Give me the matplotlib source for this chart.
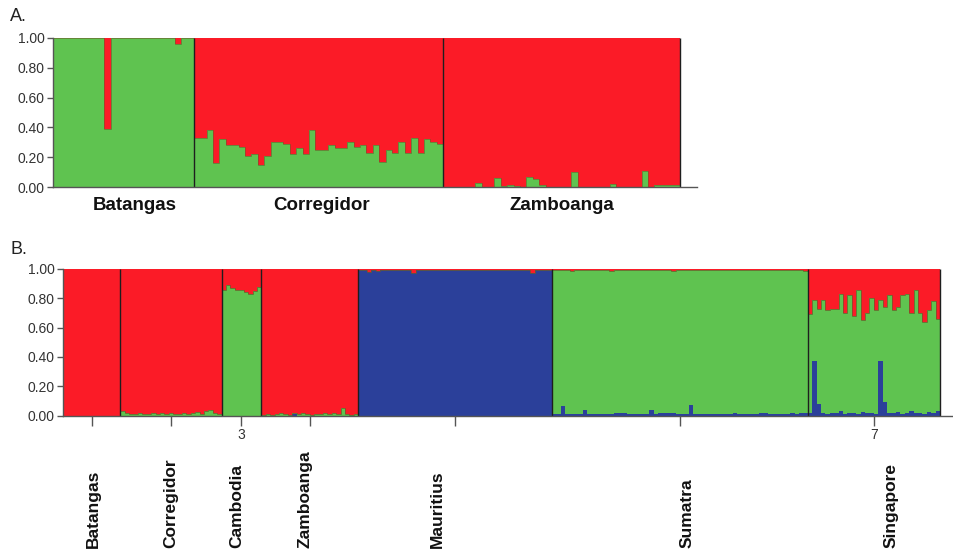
import numpy as np
import matplotlib.pyplot as plt
import matplotlib.transforms as mtransforms

plt.rcParams['font.family'] = ['Liberation Sans', 'DejaVu Sans']

GREEN = '#5fc350'
RED = '#fb1b27'
BLUE = '#2b409a'
EDGE = '#6e5a2a'

# ---- Panel A (K=2): green membership per individual, red is the remainder
a_pops = ['Batangas', 'Corregidor', 'Zamboanga']
a_batangas_green = [1, 1, 1, 1, 1, 1, 1, 1, 0.39, 1, 1,
                    1, 1, 1, 1, 1, 1, 1, 1, 0.96, 1, 1]
a_corregidor_green = [0.33, 0.33, 0.38, 0.16, 0.32, 0.28, 0.28, 0.27, 0.21, 0.22,
                      0.15, 0.21, 0.30, 0.30, 0.29, 0.22, 0.26, 0.22, 0.38, 0.25,
                      0.25, 0.28, 0.26, 0.26, 0.30, 0.27, 0.28, 0.23, 0.28, 0.17,
                      0.25, 0.23, 0.30, 0.23, 0.33, 0.23, 0.32, 0.30, 0.29]
a_zamboanga_green = [0, 0, 0.005, 0.005, 0.005, 0.03, 0.005, 0.005, 0.06, 0.01,
                     0.015, 0.01, 0.005, 0.07, 0.055, 0.015, 0.005, 0.005, 0, 0.005,
                     0.10, 0.005, 0, 0.005, 0.005, 0.005, 0.025, 0.005, 0, 0.005,
                     0.005, 0.11, 0.005, 0.015, 0.015, 0.015, 0.015]

# ---- Panel B (K=3): blue and red membership, green is the remainder
b_pops = ['Batangas', 'Corregidor', 'Cambodia', 'Zamboanga',
          'Mauritius', 'Sumatra', 'Singapore']
b_tick_labels = ['', '', '3', '', '', '', '7']

b_batangas_blue = [0, 0, 0, 0, 0, 0, 0, 0, 0, 0, 0, 0, 0]
b_batangas_red = [1, 1, 1, 1, 1, 1, 1, 1, 1, 1, 1, 1, 1]

b_corregidor_blue = [0, 0, 0, 0, 0, 0, 0, 0, 0, 0, 0, 0,
                     0, 0, 0, 0, 0, 0, 0, 0, 0, 0, 0]
b_corregidor_red = [0.97, 0.98, 0.99, 0.99, 0.985, 0.99, 0.99, 0.98, 0.99, 0.985,
                    0.99, 0.98, 0.99, 0.99, 0.985, 0.99, 0.98, 0.975, 0.99, 0.97,
                    0.96, 0.985, 0.99]

b_cambodia_blue = [0, 0, 0, 0, 0, 0, 0, 0, 0]
b_cambodia_red = [0.14, 0.11, 0.13, 0.14, 0.14, 0.16, 0.17, 0.15, 0.12]

b_zamboanga_blue = [0, 0, 0, 0, 0, 0, 0, 0.01, 0, 0, 0,
                    0, 0, 0, 0, 0, 0, 0, 0, 0, 0, 0]
b_zamboanga_red = [0.995, 0.99, 0.995, 0.99, 0.985, 0.99, 0.995, 0.98, 0.99, 0.98,
                   0.99, 0.995, 0.99, 0.99, 0.985, 0.99, 0.98, 0.99, 0.95, 0.99,
                   0.995, 0.99]

b_mauritius_blue = [0.995, 0.99, 0.98, 0.995, 0.985, 0.995, 0.995, 0.99, 0.995, 0.995,
                    0.995, 0.99, 0.975, 0.995, 0.995, 0.995, 0.995, 0.99, 0.99, 0.995,
                    0.995, 0.995, 0.995, 0.99, 0.995, 0.995, 0.995, 0.995, 0.995, 0.995,
                    0.995, 0.995, 0.995, 0.995, 0.995, 0.995, 0.995, 0.995, 0.99, 0.97,
                    0.995, 0.995, 0.995, 0.995]
b_mauritius_red = [0.005, 0.01, 0.02, 0.005, 0.015, 0.005, 0.005, 0.01, 0.005, 0.005,
                   0.005, 0.01, 0.025, 0.005, 0.005, 0.005, 0.005, 0.01, 0.01, 0.005,
                   0.005, 0.005, 0.005, 0.01, 0.005, 0.005, 0.005, 0.005, 0.005, 0.005,
                   0.005, 0.005, 0.005, 0.005, 0.005, 0.005, 0.005, 0.005, 0.01, 0.03,
                   0.005, 0.005, 0.005, 0.005]

b_sumatra_blue = [0.01, 0.008, 0.065, 0.01, 0.008, 0.01, 0.012, 0.04, 0.01, 0.008,
                  0.01, 0.008, 0.01, 0.012, 0.015, 0.02, 0.015, 0.01, 0.008, 0.01,
                  0.01, 0.012, 0.04, 0.01, 0.015, 0.018, 0.02, 0.015, 0.01, 0.012,
                  0.01, 0.075, 0.01, 0.008, 0.01, 0.008, 0.01, 0.01, 0.008, 0.01,
                  0.012, 0.015, 0.01, 0.008, 0.01, 0.012, 0.01, 0.015, 0.02, 0.01,
                  0.008, 0.01, 0.012, 0.01, 0.015, 0.012, 0.018, 0.02]
b_sumatra_red = [0.008, 0.01, 0.005, 0.01, 0.012, 0.005, 0.008, 0.01, 0.005, 0.005,
                 0.005, 0.005, 0.01, 0.012, 0.008, 0.01, 0.005, 0.005, 0.01, 0.005,
                 0.008, 0.005, 0.005, 0.01, 0.005, 0.005, 0.005, 0.012, 0.01, 0.008,
                 0.005, 0.005, 0.005, 0.005, 0.01, 0.005, 0.005, 0.005, 0.008, 0.005,
                 0.005, 0.01, 0.005, 0.005, 0.008, 0.005, 0.005, 0.005, 0.005, 0.005,
                 0.005, 0.005, 0.005, 0.005, 0.005, 0.005, 0.01, 0.012]

b_singapore_blue = [0.02, 0.37, 0.08, 0.02, 0.01, 0.015, 0.02, 0.03, 0.01, 0.015,
                    0.02, 0.01, 0.025, 0.015, 0.02, 0.01, 0.37, 0.09, 0.015, 0.02,
                    0.025, 0.01, 0.02, 0.03, 0.015, 0.02, 0.01, 0.025, 0.02, 0.03]
b_singapore_red = [0.31, 0.21, 0.27, 0.21, 0.28, 0.27, 0.27, 0.17, 0.30, 0.18,
                   0.32, 0.145, 0.35, 0.30, 0.20, 0.28, 0.21, 0.26, 0.18, 0.28,
                   0.26, 0.18, 0.17, 0.30, 0.145, 0.30, 0.36, 0.28, 0.22, 0.34]

a_green = [a_batangas_green, a_corregidor_green, a_zamboanga_green]
b_blue = [b_batangas_blue, b_corregidor_blue, b_cambodia_blue, b_zamboanga_blue,
          b_mauritius_blue, b_sumatra_blue, b_singapore_blue]
b_red = [b_batangas_red, b_corregidor_red, b_cambodia_red, b_zamboanga_red,
         b_mauritius_red, b_sumatra_red, b_singapore_red]

# label nudges (in individuals) relative to population centre
a_label_shift = [1.7, 0.5, 0]
b_label_shift = [0.5, 0, -1, -1, -4, 1.6, 4]


def draw_stack(ax, start, layers):
    """layers: list of (values, color) stacked bottom to top"""
    n = len(layers[0][0])
    edges = np.arange(start, start + n + 1)
    base = np.zeros(n)
    tops = []
    for vals, col in layers:
        top = base + np.asarray(vals, dtype=float)
        ax.stairs(top, edges, baseline=base, fill=True, color=col, lw=0)
        tops.append(top)
        base = top
    return edges, tops


def style_axis(ax):
    for s in ['top', 'right']:
        ax.spines[s].set_visible(False)
    for s in ['left', 'bottom']:
        ax.spines[s].set_color('#555555')
        ax.spines[s].set_linewidth(1.0)
    ax.set_ylim(0, 1)
    ticks = [0, 0.2, 0.4, 0.6, 0.8, 1.0]
    ax.set_yticks(ticks)
    ax.set_yticklabels(['%.2f' % v for v in ticks])
    ax.tick_params(axis='y', direction='out', length=4, width=1, color='#555555',
                   labelsize=10, labelcolor='#333333', pad=2)


fig = plt.figure(figsize=(9.54, 5.52), dpi=100)
W, H = 954.0, 552.0

# ---------------- Panel A ----------------
axA = fig.add_axes([53 / W, 1 - 187.3 / H, (697 - 53) / W, (187.3 - 37.7) / H])
style_axis(axA)
start = 0
a_bounds, a_centers = [], []
for green in a_green:
    red = 1 - np.asarray(green, dtype=float)
    edges, tops = draw_stack(axA, start, [(green, GREEN), (red, RED)])
    axA.stairs(tops[0], edges, baseline=None, color=EDGE, lw=0.6, alpha=0.7)
    a_centers.append(start + len(green) / 2)
    start += len(green)
    a_bounds.append(start)
nA = start
axA.vlines(a_bounds, 0, 1, color='#1e1e1e', lw=1.0)
axA.set_xlim(0, nA * (697 - 53) / (680 - 53))
axA.set_xticks([])
trA = mtransforms.blended_transform_factory(axA.transData, fig.transFigure)
for name, cx, dx in zip(a_pops, a_centers, a_label_shift):
    axA.text(cx + dx, 1 - 205 / H, name, transform=trA, ha='center', va='center',
             fontsize=13.5, fontweight='bold', color='#111111')
fig.text(10 / W, 1 - 21 / H, 'A.', fontsize=13, color='#222222')

# ---------------- Panel B ----------------
axB = fig.add_axes([63 / W, 1 - 415.5 / H, (953 - 63) / W, (415.5 - 269) / H])
style_axis(axB)
start = 0
b_bounds, b_centers = [], []
for blue, red in zip(b_blue, b_red):
    blue = np.asarray(blue, dtype=float)
    red = np.asarray(red, dtype=float)
    green = 1 - blue - red
    edges, tops = draw_stack(axB, start, [(blue, BLUE), (green, GREEN), (red, RED)])
    axB.stairs(tops[1], edges, baseline=None, color=EDGE, lw=0.7, alpha=0.75)
    b_centers.append(start + len(blue) / 2)
    start += len(blue)
    b_bounds.append(start)
nB = start
axB.vlines(b_bounds, 0, 1, color='#1e1e1e', lw=1.0)
axB.set_xlim(0, nB * (953 - 63) / (940 - 63))
axB.set_xticks(b_centers)
axB.set_xticklabels(b_tick_labels)
axB.tick_params(axis='x', direction='out', length=7, width=1, color='#555555',
                labelsize=10, labelcolor='#333333', pad=2)
trB = mtransforms.blended_transform_factory(axB.transData, fig.transFigure)
for name, cx, dx in zip(b_pops, b_centers, b_label_shift):
    axB.text(cx + dx, 1 - 548 / H, name, transform=trB, rotation=90,
             ha='center', va='bottom', fontsize=12.5, fontweight='bold',
             color='#111111')
fig.text(10 / W, 1 - 254 / H, 'B.', fontsize=13, color='#222222')

fig.savefig('out.png', dpi=100)
